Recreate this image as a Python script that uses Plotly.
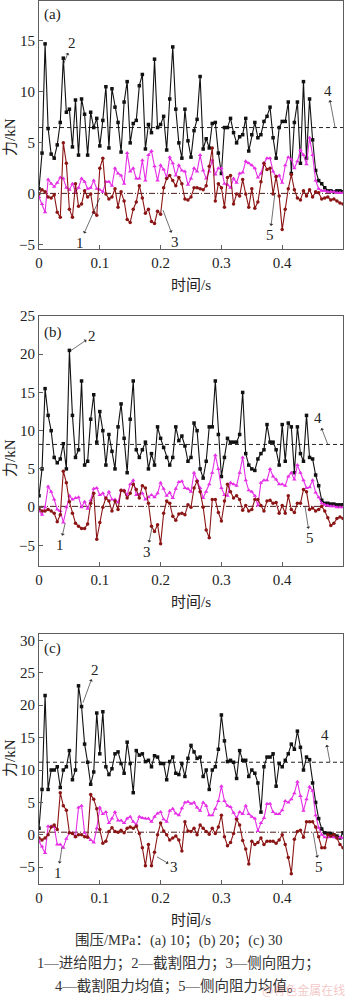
import plotly.graph_objects as go

# time axis (s), sampled every 0.005 s
time_s = [round(i * 0.005, 3) for i in range(101)]

# ---------------- (a) 10 MPa ----------------
feed_a = [-0.3, -1.0, -1.8, 1.4, 1.0, 0.7, 1.1, 1.6, 1.5, 0.6,
          0.4, 1.0, 0.2, 0.6, 1.5, 1.2, 0.5, 0.6, 1.3, 0.5,
          0.4, 0.2, 1.2, 1.2, 0.8, 2.5, 2.0, 1.8, 1.0, 4.0,
          2.2, 2.5, 1.5, 1.5, 3.3, 1.3, 3.8, 4.2, 2.7, 1.3,
          2.8, 2.4, 1.6, 3.6, 3.0, 1.8, 2.8, 2.3, 2.2, 0.9,
          1.5, 2.5, 2.2, 3.8, 2.3, 1.5, 2.2, 3.3, 1.9, 2.5,
          2.5, 1.0, 0.9, 0.6, 1.5, 1.1, 2.0, 2.1, 3.2, 3.0,
          2.8, 2.5, 1.6, 2.0, 3.0, 3.5, 3.5, 2.2, 1.7, 1.8,
          1.1, 2.8, 3.6, 3.4, 2.5, 3.2, 4.3, 3.8, 2.9, 5.5,
          3.8, 1.3, 0.5, 0.3, 0.3, 0.2, 0.2, 0.2, 0.1, 0.1, 0.1]
cut_a = [0.5, 4.0, 14.7, 6.4, 3.9, 3.5, 4.8, 7.0, 13.3, 8.0,
         8.3, 4.6, 9.2, 3.8, 9.3, 7.8, 3.8, 8.0, 6.5, 7.4,
         4.7, 7.2, 10.5, 4.5, 10.3, 8.5, 7.0, 4.1, 9.0, 11.0,
         5.0, 6.9, 7.2, 10.6, 11.7, 4.4, 6.8, 6.0, 13.2, 6.5,
         6.8, 7.6, 4.3, 9.3, 14.4, 8.3, 5.0, 3.5, 8.3, 5.2,
         3.6, 6.2, 7.3, 11.5, 4.4, 5.4, 4.5, 6.9, 7.0, 4.0,
         2.0, 6.5, 6.5, 7.4, 6.0, 5.0, 5.6, 5.8, 7.4, 4.2,
         5.8, 7.0, 5.5, 5.8, 7.1, 7.6, 8.5, 5.5, 3.5, 6.5,
         7.1, 7.1, 9.0, 2.0, 7.0, 9.0, 3.0, 11.0, 3.5, 9.3,
         5.3, 2.3, 1.3, 1.0, 0.6, 0.3, 0.3, 0.2, 0.3, 0.3, 0.2]
lat_a = [0.0, 0.4, 0.2, -0.3, -0.4, -0.1, -1.8, -2.3, 5.0, 3.0,
         -1.5, -2.3, 1.0, -1.2, -1.0, 0.3, -0.3, 0.0, -1.8, -2.1,
         2.5, 3.5, 0.0, -0.5, -0.3, 0.5, -1.3, 0.2, -0.7, -2.5,
         -2.8, -1.5, -0.8, 0.8, -0.4, -1.9, -1.5, -2.7, -2.9, -1.7,
         -2.0, 0.6, 1.5, 1.8, 1.3, 0.8, 1.6, 1.0, -0.5, -0.6,
         -0.3, 0.6, 0.6, 0.5, 0.4, 0.8, 2.7, 4.5, -0.7, 1.0,
         0.6, -1.3, 1.6, 1.8, -1.0, 0.0, -0.2, 1.4, 0.0, -1.3,
         0.5, -1.4, -0.8, 1.2, 3.0, 2.4, 2.5, 0.0, 1.7, -0.2,
         -3.5, -1.5, 0.5, 1.9, 0.4, -0.4, -0.6, 0.3, -0.2, 0.4,
         -0.3, 0.2, 0.1, -0.5, -0.4, -0.3, -0.6, -0.5, -0.7, -0.9, -1.0]
mean_cut_a = 6.5
mean_lat_a = 0.05

# ---------------- (b) 20 MPa ----------------
feed_b = [-0.5, -1.0, 0.0, 2.7, 2.0, 1.0, -0.3, -0.5, -2.0, 0.0,
          1.5, 1.0, 1.2, 1.3, 0.0, 0.7, -0.2, 0.9, 2.4, 2.5,
          1.6, 1.8, 1.1, 2.0, 1.0, 1.0, 0.6, 2.2, 2.2, 1.6,
          3.0, 3.5, 1.6, 1.7, 1.8, 1.0, 1.3, 1.6, 1.3, 1.8,
          3.2, 2.4, 1.5, 1.9, 1.2, 2.4, 3.3, 3.4, 2.5, 2.4,
          2.0, 4.5, 3.5, 2.5, 1.2, 2.0, 3.0, 4.5, 6.8, 5.0,
          2.5, 1.6, 1.5, 3.2, 3.0, 2.8, 4.5, 6.5, 3.5, 2.2,
          2.0, 1.5, 0.2, 3.2, 3.5, 3.5, 5.0, 4.0, 3.6, 3.0,
          3.0, 2.8, 4.0, 4.5, 3.6, 5.5, 4.5, 3.5, 2.5, 2.6,
          3.5, 1.9, 1.3, 0.5, 0.3, 0.2, 0.1, 0.1, 0.0, 0.0, 0.0]
cut_b = [1.5, 5.0, 15.5, 12.0, 10.0, 6.5, 5.8, 6.3, 8.3, 5.0,
         20.5, 12.0, 6.5, 7.5, 16.5, 5.5, 6.0, 11.5, 14.7, 8.5,
         12.5, 10.0, 5.5, 9.5, 7.3, 5.0, 10.5, 13.5, 9.0, 4.5,
         11.5, 16.5, 7.5, 6.5, 7.5, 8.5, 5.0, 7.0, 5.5, 10.5,
         9.0, 7.8, 6.5, 5.5, 6.5, 10.5, 8.7, 9.3, 8.0, 6.0,
         6.5, 11.0, 10.0, 5.0, 3.8, 6.0, 10.5, 10.5, 16.5, 9.5,
         4.0, 6.5, 9.0, 8.5, 8.5, 8.5, 9.5, 15.0, 7.0, 5.5,
         5.0, 4.8, 6.3, 7.0, 7.5, 10.8, 8.5, 8.5, 7.5, 5.5,
         10.8, 6.0, 11.0, 10.5, 4.5, 10.5, 7.0, 6.0, 12.0, 6.5,
         6.3, 4.2, 2.8, 0.9, 0.5, 0.5, 0.4, 0.4, 0.3, 0.3, 0.3]
lat_b = [-0.2, -0.5, -0.5, -0.3, -0.5, -0.8, -1.9, -1.0, 4.7, 3.2,
         0.7, -0.8, -2.1, -2.5, -2.8, -2.8, -2.2, 0.5, 1.8, -4.2,
         -2.0, 0.0, 1.2, 0.8, -0.5, 0.8, -0.3, 2.2, 2.1, 1.2,
         1.8, 3.0, 2.3, 1.2, 2.8, 2.5, 0.5, -2.5, -3.2, -2.3,
         -4.8, -0.8, 0.8, 0.5, -1.2, -1.7, -0.9, -0.8, -1.0, 0.3,
         0.0, 2.5, 3.4, 2.0, 0.0, -3.0, -4.0, 1.0, 1.0, -0.7,
         -1.8, 0.8, 3.0, 2.0, 1.2, 1.5, 1.0, -0.4, 0.2, -0.5,
         -0.3, 1.0, 1.0, 0.2, -0.5, 0.8, 0.9, 0.5, 0.6, -0.8,
         0.2, -0.8, 1.5, -0.3, -0.7, 0.5, 0.5, 2.3, 2.0, -0.3,
         -0.1, -0.5, -0.3, 0.1, -0.5, -1.4, -2.4, -2.1, -1.5, -1.3, -1.5]
mean_cut_b = 8.2
mean_lat_b = 0.1

# ---------------- (c) 30 MPa ----------------
feed_c = [-1.0, -1.8, -2.8, 1.3, 1.3, 1.2, -1.5, -1.5, -2.0, -0.6,
          0.3, 0.3, -0.3, 4.2, 4.5, 0.3, -0.3, -0.8, -1.2, 1.0,
          4.2, 3.2, 3.5, 1.8, 2.5, 3.5, 2.2, 2.2, 1.8, 2.5,
          2.8, 2.0, 1.6, 2.8, 2.6, 2.5, 2.5, 2.0, 2.8, 3.3,
          3.5, 2.4, 2.0, 3.7, 4.0, 3.3, 3.0, 4.1, 5.0, 5.1,
          4.8, 5.0, 4.2, 3.7, 5.0, 4.5, 3.0, 3.0, 4.0, 5.2,
          7.5, 5.2, 4.5, 4.3, 3.4, 2.6, 3.5, 3.2, 4.5, 3.2,
          2.8, 2.5, 0.6, 1.8, 2.6, 4.8, 4.8, 3.5, 3.2, 3.2,
          3.8, 5.2, 5.0, 5.5, 6.4, 8.2, 6.0, 3.7, 5.5, 7.4,
          6.8, 3.0, 1.1, 0.0, -0.4, -0.4, -0.3, -0.4, -0.5, -0.4, -0.5]
cut_c = [1.0, 7.0, 21.5, 7.0, 10.0, 10.0, 10.5, 7.3, 10.0, 10.5,
         13.0, 8.5, 10.0, 23.0, 19.8, 14.0, 11.2, 7.8, 9.7, 18.8,
         12.5, 19.0, 10.5, 9.3, 10.2, 12.5, 12.8, 11.0, 9.5, 14.3,
         11.0, 6.5, 13.0, 12.3, 12.5, 11.3, 11.5, 10.5, 12.2, 12.0,
         11.0, 11.0, 8.5, 11.3, 12.0, 9.5, 9.3, 11.0, 9.0, 11.8,
         13.8, 12.8, 11.8, 12.0, 9.0, 10.0, 7.0, 10.0, 10.5, 13.2,
         18.5, 14.5, 11.3, 11.5, 11.2, 8.7, 13.0, 11.5, 11.5, 9.0,
         10.0, 9.5, 8.0, 3.5, 10.5, 12.0, 12.0, 12.5, 7.5, 11.0,
         10.5, 11.5, 12.5, 14.0, 13.2, 16.0, 13.5, 10.0, 12.0, 11.6,
         8.0, 5.0, 2.5, 0.9, 0.3, 0.2, 0.2, 0.0, -0.2, -0.5, 0.3]
lat_c = [-0.5, -0.8, -0.5, 0.0, 1.2, 1.5, 0.8, 6.5, 4.5, 3.8,
         0.3, 0.2, -0.3, 0.0, 0.0, -0.3, -0.4, 6.2, 5.5, 4.0,
         0.8, -1.3, -1.0, 0.5, 1.1, 0.5, 0.4, 0.7, 0.3, 1.0,
         1.2, 1.0, 1.3, 0.2, -2.0, -4.8, -1.5, -4.8, -2.7, 0.0,
         1.8, 0.6, 0.0, -0.8, -0.5, -0.2, -0.8, -2.5, 2.0, 0.6,
         0.5, 1.0, 0.0, 1.5, 1.0, 0.5, 0.1, 1.0, 0.2, 1.2,
         3.0, -0.3, -1.7, -1.2, 0.2, 2.4, 1.5, -0.9, -2.2, -4.5,
         -1.0, -1.5, -1.2, -0.5, -1.5, -1.0, -1.0, -1.0, -1.3, -0.8,
         0.0, -1.5, -3.5, -6.0, -0.7, 0.5, 0.7, -0.4, 2.0, 2.0,
         2.0, 1.2, -0.3, -2.0, -2.0, 0.0, -0.2, 0.0, -0.5, -1.5, -2.0]
mean_cut_c = 11.2
mean_lat_c = 0.4

panel_labels = ["(a)", "(b)", "(c)"]
y_ranges = [[-5.4, 18.9], [-7.7, 25.0], [-7.6, 31.0]]
y_ticks = [[-5, 0, 5, 10, 15], [-5, 0, 5, 10, 15, 20, 25], [-5, 0, 5, 10, 15, 20, 25, 30]]
x_ticks = [0, 0.1, 0.2, 0.3, 0.4, 0.5]
x_ticktext = ["0", "0.1", "0.2", "0.3", "0.4", "0.5"]
x_title = "时间/s"
y_title = "力/kN"
caption_lines = ["围压/MPa：(a) 10；(b) 20；(c) 30",
                 "1—进给阻力；2—截割阻力；3—侧向阻力；",
                 "4—截割阻力均值；5—侧向阻力均值。"]
watermark = "@有色金属在线"

W, H = 350, 999
# plot-area pixel boxes (top, bottom)
boxes = [(1, 249), (316, 566), (634, 884)]
x_left, x_right = 39, 343

C_CUT = "#111111"
C_FEED = "#e52ee5"
C_LAT = "#8b1414"
C_AX = "#5e5e5e"
SERIF = "Liberation Serif, Times New Roman, serif"
MIXED = "Liberation Serif, Noto Sans CJK SC, serif"

panels = [
    (feed_a, cut_a, lat_a, mean_cut_a, mean_lat_a),
    (feed_b, cut_b, lat_b, mean_cut_b, mean_lat_b),
    (feed_c, cut_c, lat_c, mean_cut_c, mean_lat_c),
]

fig = go.Figure()
layout = dict(
    width=W, height=H, margin=dict(l=0, r=0, t=0, b=0),
    paper_bgcolor="white", plot_bgcolor="white", showlegend=False,
    font=dict(family=SERIF, size=14, color="#222"),
)

for i, (feed, cut, lat, mcut, mlat) in enumerate(panels):
    xa = "x" if i == 0 else f"x{i+1}"
    ya = "y" if i == 0 else f"y{i+1}"
    # mean lines
    fig.add_trace(go.Scatter(x=[0, 0.5], y=[mcut, mcut], mode="lines", xaxis=xa, yaxis=ya,
                             line=dict(color="#222", width=1, dash="4px,3px")))
    fig.add_trace(go.Scatter(x=[0, 0.5], y=[mlat, mlat], mode="lines", xaxis=xa, yaxis=ya,
                             line=dict(color="#4a1a1a", width=1, dash="6px,2px,1px,2px")))
    fig.add_trace(go.Scatter(x=time_s, y=cut, mode="lines+markers", xaxis=xa, yaxis=ya,
                             line=dict(color=C_CUT, width=1.1),
                             marker=dict(symbol="square", size=3.5, color=C_CUT)))
    fig.add_trace(go.Scatter(x=time_s, y=feed, mode="lines+markers", xaxis=xa, yaxis=ya,
                             line=dict(color=C_FEED, width=1.1),
                             marker=dict(symbol="triangle-up", size=4, color=C_FEED)))
    fig.add_trace(go.Scatter(x=time_s, y=lat, mode="lines+markers", xaxis=xa, yaxis=ya,
                             line=dict(color=C_LAT, width=1.1),
                             marker=dict(symbol="circle", size=3.5, color=C_LAT)))

    top, bot = boxes[i]
    xkey = "xaxis" if i == 0 else f"xaxis{i+1}"
    ykey = "yaxis" if i == 0 else f"yaxis{i+1}"
    layout[xkey] = dict(domain=[x_left / W, x_right / W], anchor=ya, range=[0, 0.5],
                        tickvals=x_ticks, ticktext=x_ticktext,
                        ticks="inside", ticklen=4, tickcolor=C_AX,
                        showline=True, linecolor=C_AX, linewidth=1, mirror=True,
                        showgrid=False, zeroline=False, automargin=False,
                        tickfont=dict(family=SERIF, size=15, color="#222"))
    layout[ykey] = dict(domain=[1 - bot / H, 1 - top / H], anchor=xa, range=y_ranges[i],
                        tickvals=y_ticks[i], ticks="inside", ticklen=4, tickcolor=C_AX,
                        showline=True, linecolor=C_AX, linewidth=1, mirror=True,
                        showgrid=False, zeroline=False, automargin=False,
                        tickfont=dict(family=SERIF, size=15, color="#222"))

annotations = []
# axis titles and panel letters
for i, (top, bot) in enumerate(boxes):
    annotations.append(dict(text=x_title, xref="paper", yref="paper",
                            x=191 / W, y=1 - (bot + 36) / H, showarrow=False,
                            font=dict(family=MIXED, size=15, color="#222"),
                            xanchor="center", yanchor="middle"))
    ycen = [137, 458, 758][i]
    annotations.append(dict(text=y_title, xref="paper", yref="paper",
                            x=10 / W, y=1 - ycen / H, showarrow=False, textangle=-90,
                            font=dict(family=MIXED, size=15, color="#222"),
                            xanchor="center", yanchor="middle"))
    annotations.append(dict(text=panel_labels[i], xref="paper", yref="paper",
                            x=42 / W, y=1 - ([15, 332, 648][i]) / H, showarrow=False,
                            font=dict(family=SERIF, size=15, color="#222"),
                            xanchor="left", yanchor="middle"))

# numbered callouts: (panel, label, x data, y data, ax px, ay px)
callouts = [
    (0, "2", 0.0395, 12.6, 9, -22), (0, "4", 0.487, 6.5, -7, -37),
    (0, "1", 0.100, -0.4, -20, 45), (0, "3", 0.204, -1.6, 12, 32),
    (0, "5", 0.388, 0.05, -5, 42),
    (1, "2", 0.051, 20.4, 22, -15), (1, "4", 0.475, 8.2, -10, -26),
    (1, "1", 0.043, -2.1, -5, 22), (1, "3", 0.186, -2.6, -5, 25),
    (1, "5", 0.4375, 0.1, 5, 32),
    (2, "2", 0.0724, 20.4, 12, -33), (2, "4", 0.4786, 11.2, -5, -27),
    (2, "1", 0.0378, -1.9, -4, 26), (2, "3", 0.194, -3.4, 17, 10),
    (2, "5", 0.4507, 0.4, 6, 35),
]
for p, lab, xd, yd, ax, ay in callouts:
    xr = "x" if p == 0 else f"x{p+1}"
    yr = "y" if p == 0 else f"y{p+1}"
    annotations.append(dict(text=lab, xref=xr, yref=yr, x=xd, y=yd, ax=ax, ay=ay,
                            showarrow=True, arrowside="start", arrowhead=2, arrowsize=0.9,
                            arrowwidth=0.7, arrowcolor="#333",
                            font=dict(family=SERIF, size=15, color="#222")))

for j, line in enumerate(caption_lines):
    annotations.append(dict(text=line, xref="paper", yref="paper",
                            x=178 / W, y=1 - ([940, 963, 986][j]) / H, showarrow=False,
                            font=dict(family=MIXED, size=14.5, color="#333"),
                            xanchor="center", yanchor="middle"))
annotations.append(dict(text=watermark, xref="paper", yref="paper",
                        x=347 / W, y=1 - 989 / H, showarrow=False,
                        font=dict(family="Noto Sans CJK SC", size=12, color="rgba(225,110,110,0.4)"),
                        xanchor="right", yanchor="middle"))

layout["annotations"] = annotations
fig.update_layout(**layout)
fig.write_html("out.html")
